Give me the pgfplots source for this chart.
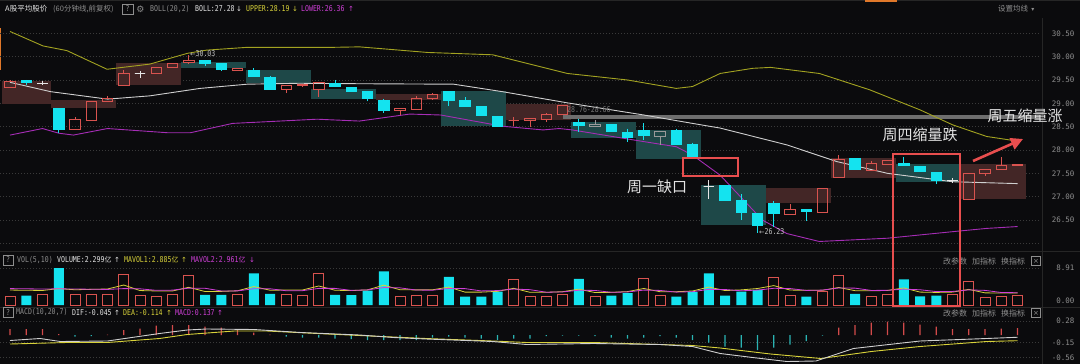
\documentclass[border=0pt]{standalone}
\usepackage{pgfplots}
\pgfplotsset{compat=1.18}
\usepackage{pgfplotstable}
\usepgfplotslibrary{statistics}
\usetikzlibrary{arrows.meta}
\usepackage{graphicx}
\usepackage{fontspec}
\setmainfont{DejaVu Sans}
\newfontfamily\cjk{Noto Sans CJK SC}
\newfontfamily\mono{DejaVu Sans Mono}

\definecolor{bg}{HTML}{0B0B0D}
\definecolor{upred}{HTML}{D9534F}
\definecolor{dncyan}{HTML}{14E3EF}
\definecolor{dojiw}{HTML}{E6E6E6}
\definecolor{flatg}{HTML}{9A9A9A}
\definecolor{boxred}{HTML}{432626}
\definecolor{boxteal}{HTML}{1E4848}
\definecolor{gridc}{HTML}{3A3A3A}
\definecolor{upperc}{HTML}{A3A321}
\definecolor{midc}{HTML}{CFCFCF}
\definecolor{lowerc}{HTML}{A52DB5}
\definecolor{yel}{HTML}{D8D23A}
\definecolor{mag}{HTML}{D040D8}
\definecolor{txtg}{HTML}{8E8E8E}
\definecolor{txtw}{HTML}{E4E4E4}
\definecolor{hl}{HTML}{E84E4E}
\definecolor{macdneg}{HTML}{2AB3B3}
\definecolor{macdpos}{HTML}{D24A4A}
\definecolor{sepc}{HTML}{262626}
\definecolor{bandc}{HTML}{6E6E6E}
\definecolor{orangec}{HTML}{E0782A}

% header text: condensed mono
\newcommand\hdr[2][txtg]{\textcolor{#1}{\scalebox{0.82}[1]{\mono\fontsize{8}{9}\selectfont #2}}}
\newcommand\cj[3][txtg]{\textcolor{#1}{\cjk\fontsize{#2}{#2}\selectfont #3}}
\newcommand\arr[2]{\textcolor{#1}{\fontsize{7}{7}\selectfont #2}}

% hourly candles: index, open, close, high, low, type (0 down, 1 up, 2 doji, 3 flat)
\pgfplotstableread{
i o c h l t
0 29.34 29.48 29.50 29.33 1
1 29.49 29.44 29.50 29.39 0
2 29.43 29.43 29.47 29.39 2
3 28.89 28.45 28.89 28.37 0
4 28.45 28.66 28.71 28.45 1
5 28.64 29.04 29.04 28.64 1
6 29.04 29.10 29.16 29.04 1
7 29.38 29.64 29.71 29.38 1
8 29.64 29.64 29.70 29.54 2
9 29.64 29.77 29.78 29.64 1
10 29.77 29.86 29.87 29.77 1
11 29.87 29.93 30.03 29.84 1
12 29.92 29.86 29.93 29.80 0
13 29.85 29.72 29.85 29.70 0
14 29.71 29.75 29.76 29.71 1
15 29.71 29.58 29.75 29.58 0
16 29.56 29.30 29.58 29.30 0
17 29.29 29.39 29.39 29.23 1
18 29.38 29.40 29.42 29.37 1
19 29.29 29.44 29.45 29.14 1
20 29.43 29.36 29.50 29.36 0
21 29.34 29.26 29.34 29.26 0
22 29.25 29.11 29.25 29.04 0
23 29.07 28.84 29.09 28.80 0
24 28.84 28.89 28.89 28.75 1
25 28.87 29.11 29.16 28.87 1
26 29.10 29.20 29.23 29.08 1
27 29.25 29.07 29.25 28.94 0
28 29.07 28.94 29.13 28.94 0
29 28.94 28.74 28.94 28.74 0
30 28.73 28.51 28.73 28.51 0
31 28.63 28.63 28.71 28.51 1
32 28.64 28.68 28.68 28.49 1
33 28.66 28.76 28.80 28.61 1
34 28.76 28.96 28.96 28.76 1
35 28.59 28.53 28.66 28.39 0
36 28.50 28.54 28.64 28.50 3
37 28.54 28.39 28.54 28.39 0
38 28.38 28.27 28.46 28.18 0
39 28.43 28.31 28.57 28.21 0
40 28.29 28.40 28.40 28.11 3
41 28.41 28.13 28.46 28.13 0
42 28.11 27.86 28.16 27.86 0
43 27.23 27.23 27.36 26.96 2
44 27.24 26.93 27.24 26.93 0
45 26.91 26.66 27.06 26.50 0
46 26.64 26.39 26.64 26.23 0
47 26.86 26.64 26.91 26.36 0
48 26.62 26.73 26.84 26.62 1
49 26.73 26.69 26.73 26.48 0
50 26.66 27.18 27.18 26.66 1
51 27.41 27.79 27.89 27.41 1
52 27.82 27.59 27.82 27.59 0
53 27.57 27.71 27.77 27.57 1
54 27.70 27.77 27.78 27.70 1
55 27.71 27.66 27.85 27.66 0
56 27.64 27.54 27.64 27.54 0
57 27.51 27.34 27.51 27.27 0
58 27.34 27.34 27.39 27.30 2
59 26.95 27.50 27.50 26.95 1
60 27.49 27.58 27.58 27.45 1
61 27.59 27.68 27.84 27.59 1
62 27.66 27.70 27.71 27.66 1
}\candles

% daily range boxes: from, to, low, high, colour (1 red, 0 teal)
\pgfplotstableread{
x1 x2 lo hi t
-0.5 2.5 28.98 29.48 1
2.5 6.5 28.89 29.07 1
6.5 10.5 29.39 29.86 1
10.5 14.5 29.75 29.89 0
14.5 18.5 29.43 29.71 0
18.5 22.5 29.09 29.30 0
22.5 26.5 29.07 29.20 1
26.5 30.5 28.51 29.27 0
30.5 34.5 28.64 28.98 1
34.5 38.5 28.26 28.59 0
38.5 42.5 27.81 28.43 0
42.5 46.5 26.39 27.26 0
46.5 50.5 26.86 27.18 1
50.5 54.5 27.41 27.82 1
54.5 58.5 27.32 27.71 0
58.5 62.5 26.96 27.70 1
}\dayboxes

\pgfplotsset{
  panel/.style={
    scale only axis, width=1040pt,
    xmin=-0.61538, xmax=63.3846,
    anchor=north west,
    axis line style={draw=none},
    xtick=\empty, major tick length=0pt,
    yticklabel pos=right,
    ymajorgrids,
    grid style={gridc, dash pattern=on 1pt off 2pt, line width=0.6pt},
    yticklabel style={font=\mono\fontsize{7.5}{8}\selectfont, text=txtg, anchor=east, xshift=38pt},
  }
}

\begin{document}
\begin{tikzpicture}[x=1pt,y=1pt]
\path[use as bounding box] (0,0) rectangle (1080,-364);
\fill[bg] (0,0) rectangle (1080,-364);

% frame lines
\fill[sepc] (0,0) rectangle (1080,-1.2);
\fill[orangec] (865,0) rectangle (897,-1.6);
\fill[orangec] (0,-28) rectangle (1.3,-70);
\fill[sepc] (0,-251.2) rectangle (1080,-252.2);
\fill[sepc] (0,-307) rectangle (1080,-308);
\fill[sepc] (1041.5,-18) rectangle (1042.5,-364);

% ---------- price panel ----------
\begin{axis}[panel, at={(0pt,-20pt)}, height=230pt,
  ymin=25.8573, ymax=30.7855,
  ytick={26,26.5,27,27.5,28,28.5,29,29.5,30,30.5},
  yticklabels={,26.50,27.00,27.50,28.00,28.50,29.00,29.50,30.00,30.50}]

\pgfplotsinvokeforeach{0,...,15}{%
  \pgfplotstablegetelem{#1}{x1}\of\dayboxes \let\bxA\pgfplotsretval
  \pgfplotstablegetelem{#1}{x2}\of\dayboxes \let\bxB\pgfplotsretval
  \pgfplotstablegetelem{#1}{lo}\of\dayboxes \let\bxL\pgfplotsretval
  \pgfplotstablegetelem{#1}{hi}\of\dayboxes \let\bxH\pgfplotsretval
  \pgfplotstablegetelem{#1}{t}\of\dayboxes \let\bxT\pgfplotsretval
  \ifnum\bxT=1 \def\bxC{boxred}\else\def\bxC{boxteal}\fi
  \edef\doit{\noexpand\addplot[draw=none, fill=\bxC] coordinates {(\bxA,\bxL) (\bxB,\bxL) (\bxB,\bxH) (\bxA,\bxH)};}%
  \doit
}

% 28.76-28.66 band
\addplot[draw=none, fill=bandc] coordinates {(34,28.66) (63.4,28.66) (63.4,28.76) (34,28.76)};

% Bollinger bands
\addplot[upperc, line width=0.9pt] coordinates {(0,30.54) (2.03,30.23) (3.5,30.13) (5.97,29.73) (8.6,29.84) (10.9,30.07) (12.1,30.14) (14.6,30.2) (19.9,30.2) (21.5,30.21) (25.7,30.09) (29.7,30.04) (34.3,29.64) (38,29.5) (41,29.32) (42,29.36) (43.7,29.64) (45.7,29.75) (46.8,29.77) (49.8,29.64) (52.9,29.29) (56,28.86) (58,28.54) (60.1,28.29) (62,28.19)};
\addplot[midc, line width=0.9pt] coordinates {(0,29.45) (2.5,29.25) (6,29.09) (8.6,29.16) (11.7,29.32) (14.6,29.41) (17.8,29.43) (21.5,29.42) (27.3,29.41) (30.3,29.25) (34.3,29.01) (39,28.75) (42,28.57) (43.7,28.47) (47.8,28.11) (50.9,27.75) (54,27.5) (58,27.32) (62,27.28)};
\addplot[lowerc, line width=0.9pt] coordinates {(0,28.32) (2,28.46) (3,28.36) (3.9,28.32) (6,28.46) (9.7,28.37) (11.1,28.37) (13.7,28.57) (18.9,28.66) (21.5,28.62) (24.6,28.77) (26.5,28.75) (30.3,28.51) (32.8,28.43) (33.8,28.46) (34.6,28.43) (39,28.18) (41,28.07) (42,27.89) (43.7,27.46) (46.3,26.5) (47.8,26.21) (49.8,26.04) (54,26.11) (58,26.25) (60.1,26.32) (62,26.36)};

% candles
\pgfplotsinvokeforeach{0,...,62}{%
  \pgfplotstablegetelem{#1}{o}\of\candles \let\kO\pgfplotsretval
  \pgfplotstablegetelem{#1}{c}\of\candles \let\kC\pgfplotsretval
  \pgfplotstablegetelem{#1}{h}\of\candles \let\kH\pgfplotsretval
  \pgfplotstablegetelem{#1}{l}\of\candles \let\kL\pgfplotsretval
  \pgfplotstablegetelem{#1}{t}\of\candles \let\kT\pgfplotsretval
  \pgfmathsetmacro\kLo{min(\kO,\kC)}%
  \pgfmathsetmacro\kHi{max(\kO,\kC)}%
  \ifcase\kT\relax \def\kS{draw=dncyan,fill=dncyan}\or \def\kS{draw=upred}\or \def\kS{draw=dojiw}\or \def\kS{draw=flatg}\fi
  \edef\doit{\noexpand\addplot[\kS, line width=0.85pt, boxplot/draw direction=y, boxplot prepared={draw position=#1, lower whisker=\kL, lower quartile=\kLo, median=\kLo, upper quartile=\kHi, upper whisker=\kH, box extend=0.64, whisker extend=0}] coordinates {};}%
  \doit
}
\end{axis}

% ---------- volume panel ----------
\begin{axis}[panel, at={(0pt,-258pt)}, height=47pt,
  ymin=0, ymax=11.318,
  ytick={8.91}, yticklabels={8.91},
  extra y ticks={0.96}, extra y tick labels={0.00}, extra y tick style={grid=none}]
\addplot[ybar, bar width=10pt, bar shift=0pt, draw=upred, fill=none, line width=0.8pt] coordinates {(0,2.0) (2,2.67) (4,2.51) (5,2.51) (6,2.67) (7,7.45) (8,2.27) (9,2.0) (10,2.51) (11,7.05) (14,2.67) (17,2.67) (18,2.43) (19,7.53) (24,2.0) (25,2.27) (26,2.43) (31,6.08) (32,2.0) (33,2.0) (34,2.67) (36,2.0) (39,6.48) (40,2.43) (47,6.56) (48,2.27) (50,3.24) (51,7.05) (53,2.1) (54,2.51) (58,2.51) (59,5.75) (60,1.95) (61,2.0) (62,2.30)};
\addplot[ybar, bar width=10pt, bar shift=0pt, draw=none, fill=dncyan] coordinates {(1,2.27) (3,8.91) (12,2.43) (13,2.43) (15,7.61) (16,2.67) (20,2.43) (21,2.35) (22,3.48) (23,8.1) (27,6.8) (28,2.0) (29,2.0) (30,3.24) (35,6.32) (37,2.27) (38,2.84) (41,2.0) (42,3.08) (43,7.61) (44,2.27) (45,3.24) (46,3.65) (49,2.0) (52,2.67) (55,6.16) (56,2.1) (57,2.27)};
% MAVOL1
\addplot[yel, line width=0.8pt] coordinates {(0,3.60) (1,3.55) (2,3.50) (3,3.95) (4,3.67) (5,3.77) (6,3.85) (7,4.81) (8,3.48) (9,3.38) (10,3.38) (11,4.26) (12,3.25) (13,3.28) (14,3.42) (15,4.44) (16,3.56) (17,3.61) (18,3.61) (19,4.58) (20,3.55) (21,3.48) (22,3.64) (23,4.78) (24,3.67) (25,3.64) (26,3.66) (27,4.32) (28,3.10) (29,3.10) (30,3.29) (31,4.02) (32,3.06) (33,3.06) (34,3.20) (35,3.81) (36,3.00) (37,3.05) (38,3.22) (39,3.98) (40,3.20) (41,3.20) (42,3.37) (43,4.32) (44,3.48) (45,3.64) (46,3.97) (47,4.67) (48,3.60) (49,3.54) (50,3.54) (51,4.22) (52,3.45) (53,3.41) (54,3.51) (55,4.10) (56,3.11) (57,3.03) (58,3.11) (59,3.76) (60,2.92) (61,2.90) (62,2.89)};
% MAVOL2
\addplot[mag, line width=0.8pt] coordinates {(0,3.95) (1,3.90) (2,3.85) (3,3.90) (4,3.85) (5,3.80) (6,3.75) (7,3.95) (8,3.90) (9,3.53) (10,3.58) (11,4.06) (12,4.03) (13,3.38) (14,3.40) (15,3.91) (16,3.91) (17,3.43) (18,3.45) (19,4.00) (20,4.00) (21,3.52) (22,3.63) (23,4.20) (24,4.13) (25,3.60) (26,3.57) (27,3.98) (28,3.94) (29,3.39) (30,3.47) (31,3.84) (32,3.69) (33,3.08) (34,3.15) (35,3.55) (36,3.51) (37,3.06) (38,3.14) (39,3.59) (40,3.51) (41,3.10) (42,3.21) (43,3.77) (44,3.73) (45,3.42) (46,3.59) (47,4.02) (48,3.96) (49,3.51) (50,3.59) (51,4.10) (52,4.06) (53,3.51) (54,3.53) (55,3.82) (56,3.67) (57,3.24) (58,3.26) (59,3.64) (60,3.52) (61,3.01) (62,2.96)};
\end{axis}

% ---------- MACD panel ----------
\begin{axis}[panel, at={(0pt,-318pt)}, height=46pt,
  ymin=-0.58, ymax=0.34,
  ytick={0.28,-0.15}, yticklabels={0.28,-0.15},
  extra y ticks={-0.446}, extra y tick labels={-0.56}]
\addplot[ybar, bar width=1.2pt, bar shift=0pt, draw=none, fill=macdpos] coordinates {(0,0.12) (1,0.12) (2,0.12) (3,0.02) (6,0.01) (7,0.10) (8,0.13) (9,0.19) (10,0.20) (11,0.20) (12,0.17) (13,0.15) (14,0.12) (15,0.05) (16,0.01) (51,0.15) (52,0.20) (53,0.25) (54,0.27) (55,0.25) (56,0.21) (57,0.17) (58,0.12) (59,0.12) (60,0.12) (61,0.13) (62,0.137)};
\addplot[ybar, bar width=1.2pt, bar shift=0pt, draw=none, fill=macdneg] coordinates {(4,-0.03) (5,-0.02) (17,-0.03) (18,-0.05) (19,-0.05) (20,-0.07) (21,-0.08) (22,-0.10) (23,-0.10) (24,-0.10) (25,-0.10) (26,-0.05) (27,-0.03) (28,-0.05) (29,-0.07) (30,-0.10) (31,-0.07) (32,-0.07) (33,-0.02) (34,-0.01) (35,-0.01) (36,-0.02) (37,-0.05) (38,-0.07) (39,-0.05) (40,-0.02) (41,-0.05) (42,-0.10) (43,-0.15) (44,-0.23) (45,-0.25) (46,-0.30) (47,-0.25) (48,-0.19) (49,-0.12) (50,-0.01)};
% DEA
\addplot[yel, line width=0.9pt] coordinates {(0,-0.18) (3.5,-0.15) (6,-0.15) (9.2,-0.07) (10.9,0.01) (13.8,0.08) (15.8,0.08) (18.9,0.03) (21.5,-0.01) (25.6,-0.07) (29.7,-0.12) (31.8,-0.15) (35.9,-0.15) (40,-0.19) (42,-0.21) (43.7,-0.26) (46.8,-0.38) (49.9,-0.47) (53,-0.33) (56,-0.23) (60.1,-0.13) (62,-0.114)};
% DIF
\addplot[midc, line width=0.9pt] coordinates {(0,-0.11) (1.85,-0.07) (3.1,-0.13) (6,-0.12) (9.2,0.03) (10.9,0.10) (12.1,0.12) (15,0.11) (17.9,0.05) (21.5,0.0) (23.6,-0.05) (25.6,-0.08) (29.7,-0.13) (31.8,-0.19) (35.9,-0.17) (40,-0.19) (42,-0.23) (43.7,-0.37) (45.7,-0.45) (47.8,-0.53) (49.6,-0.52) (51.9,-0.27) (56,-0.12) (60.1,-0.07) (62,-0.045)};
\end{axis}

% ---------- header lines ----------
\node[anchor=west, inner sep=0] at (5,-9) {\cj[txtw]{7.5}{A股平均股价}};
\node[anchor=west, inner sep=0] at (53,-9) {\cj{7.5}{(60分钟线,前复权)}};
\draw[txtg, line width=0.5pt] (122,-4) rectangle (133,-14);
\node[inner sep=0] at (127.5,-9) {\hdr{?}};
\node[inner sep=0, text=txtg] at (140.5,-9) {\fontsize{9}{9}\selectfont ⚙};
\node[anchor=west, inner sep=0] at (150,-9) {\hdr{BOLL(20,2)}};
\node[anchor=west, inner sep=0] at (195,-9) {\hdr[txtw]{BOLL:27.28}};
\node[inner sep=0] at (239,-9) {\arr{txtw}{↓}};
\node[anchor=west, inner sep=0] at (246,-9) {\hdr[yel]{UPPER:28.19}};
\node[inner sep=0] at (295,-9) {\arr{yel}{↓}};
\node[anchor=west, inner sep=0] at (301,-9) {\hdr[mag]{LOWER:26.36}};
\node[inner sep=0] at (351,-9) {\arr{mag}{↑}};
\node[anchor=west, inner sep=0] at (998,-9) {\cj{7.5}{设置均线} \textcolor{txtg}{\fontsize{6}{6}\selectfont ▾}};

% volume header
\draw[txtg, line width=0.5pt] (3,-255) rectangle (13,-265);
\node[inner sep=0] at (8,-260) {\hdr{?}};
\node[anchor=west, inner sep=0] at (17,-260) {\hdr{VOL(5,10)}};
\node[anchor=west, inner sep=0] at (57,-260) {\hdr[txtw]{VOLUME:2.299}\cj[txtw]{7}{亿}};
\node[inner sep=0] at (117,-260) {\arr{txtw}{↑}};
\node[anchor=west, inner sep=0] at (124,-260) {\hdr[yel]{MAVOL1:2.885}\cj[yel]{7}{亿}};
\node[inner sep=0] at (184,-260) {\arr{yel}{↑}};
\node[anchor=west, inner sep=0] at (191,-260) {\hdr[mag]{MAVOL2:2.961}\cj[mag]{7}{亿}};
\node[inner sep=0] at (252,-260) {\arr{mag}{↓}};

% MACD header
\draw[txtg, line width=0.5pt] (3,-307.5) rectangle (13,-317.5);
\node[inner sep=0] at (8,-312.5) {\hdr{?}};
\node[anchor=west, inner sep=0] at (16,-312.5) {\hdr{MACD(10,20,7)}};
\node[anchor=west, inner sep=0] at (72,-312.5) {\hdr[txtw]{DIF:-0.045}};
\node[inner sep=0] at (117,-312.5) {\arr{txtw}{↑}};
\node[anchor=west, inner sep=0] at (123,-312.5) {\hdr[yel]{DEA:-0.114}};
\node[inner sep=0] at (169,-312.5) {\arr{yel}{↑}};
\node[anchor=west, inner sep=0] at (175,-312.5) {\hdr[mag]{MACD:0.137}};
\node[inner sep=0] at (220,-312.5) {\arr{mag}{↑}};

% indicator buttons
\foreach \yy in {261,313}{
  \node[anchor=west, inner sep=0] at (943,-\yy) {\cj{8}{改参数}};
  \node[anchor=west, inner sep=0] at (972,-\yy) {\cj{8}{加指标}};
  \node[anchor=west, inner sep=0] at (1001,-\yy) {\cj{8}{换指标}};
  \draw[txtg, line width=0.5pt] (1031.5,-\yy+4.5) rectangle (1040.5,-\yy-4.5);
  \node[inner sep=0, text=txtg] at (1036,-\yy) {\fontsize{7}{7}\selectfont ×};
}

% price notes
\node[anchor=west, inner sep=0] at (190,-54) {\textcolor{txtw!85!black}{\fontsize{6.5}{7}\selectfont ←}\hdr[txtw!85!black]{30.03}};
\node[anchor=west, inner sep=0] at (759,-232) {\textcolor{txtw!85!black}{\fontsize{6.5}{7}\selectfont ←}\hdr[txtw!85!black]{26.23}};
\node[anchor=west, inner sep=0] at (567,-110) {\hdr[txtg!85!black]{28.76-28.66}};

% highlights
\draw[hl, line width=2.2pt] (683,-158) rectangle (738,-176);
\draw[hl, line width=2.2pt] (893,-154) rectangle (960,-306);
\draw[hl, line width=2.6pt, -{Triangle[length=12pt,width=12pt]}] (973,-161) -- (1023,-139);
\node[text=txtw] at (657,-187) {\cjk\fontsize{15}{15}\selectfont 周一缺口};
\node[text=txtw] at (920,-135) {\cjk\fontsize{15}{15}\selectfont 周四缩量跌};
\node[text=txtw] at (1025,-116) {\cjk\fontsize{15}{15}\selectfont 周五缩量涨};
\end{tikzpicture}
\end{document}
